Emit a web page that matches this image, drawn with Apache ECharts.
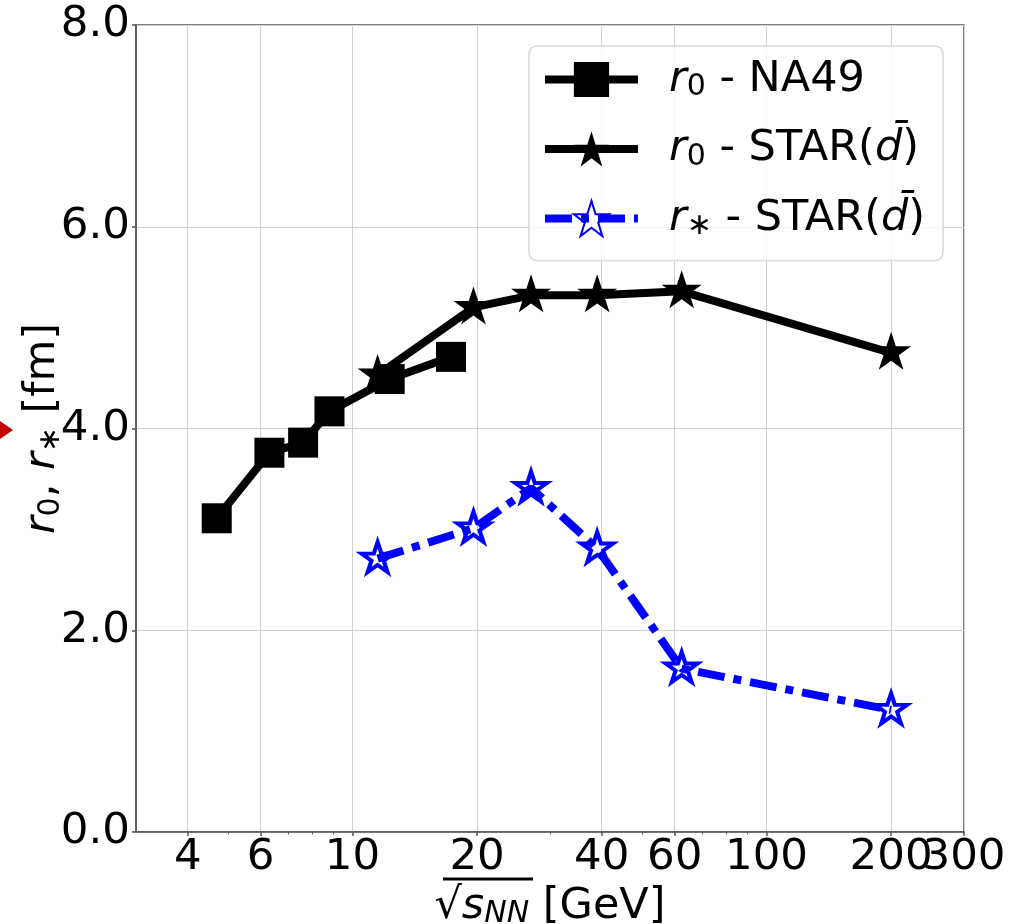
<!DOCTYPE html>
<html><head><meta charset="utf-8">
<script src="https://cdn.jsdelivr.net/npm/echarts@6/dist/echarts.min.js"></script>
<style>html,body{margin:0;padding:0;background:#fff}#c{width:1033px;height:924px}</style>
</head><body><div id="c"></div>
<script>
// ---- data ----
const xTicks = [4, 6, 10, 20, 40, 60, 100, 200, 300];
const xMinorTicks = [5, 7, 8, 9, 30, 50, 70, 80, 90];
const yTicks = [0, 2, 4, 6, 8];
const na49Energy = [4.7, 6.3, 7.6, 8.8, 12.3, 17.3];
const na49R0 = [3.11, 3.76, 3.86, 4.17, 4.49, 4.71];
const starEnergy = [11.5, 19.6, 27, 39, 62.4, 200];
const starR0 = [4.53, 5.20, 5.32, 5.32, 5.36, 4.75];
const starRstar = [2.71, 3.01, 3.41, 2.81, 1.62, 1.21];
const seriesNames = ['r0 - NA49', 'r0 - STAR(dbar)', 'r* - STAR(dbar)'];
const legendRich = ['{i|r}{s|0}{n| - NA49}', '{i|r}{s|0}{n| - STAR(}{i|d\u0304}{n|)}', '{i|r}{s|\u2217}{n| - STAR(}{i|d\u0304}{n|)}'];

const FONT = 'DejaVu Sans';
function starPath() {
  const pts = [];
  for (let k = 0; k < 10; k++) {
    const r = k % 2 === 0 ? 1 : 0.381966;
    const a = -Math.PI / 2 + k * Math.PI / 5;
    pts.push([r * Math.cos(a) * 100, r * Math.sin(a) * 100]);
  }
  return 'path://M' + pts.map(p => p[0].toFixed(2) + ',' + p[1].toFixed(2)).join('L') + 'Z';
}
const STAR = starPath();
const pair = (xs, ys) => xs.map((x, i) => [x, ys[i]]);

const richBase = {
  i: {fontFamily: FONT, fontStyle: 'italic', fontSize: 43, color: '#000'},
  s: {fontFamily: FONT, fontSize: 30, color: '#000', padding: [16, 0, 0, 0]},
  si: {fontFamily: FONT, fontStyle: 'italic', fontSize: 30, color: '#000', padding: [16, 0, 0, 0]},
  n: {fontFamily: FONT, fontSize: 43, color: '#000'}
};
const tickLabelStyle = {fontFamily: FONT, fontSize: 43.5, color: '#000', margin: 4, formatter: v => String(Math.round(v))};

const chart = echarts.init(document.getElementById('c'), null, {renderer: 'canvas'});
chart.setOption({
  animation: false,
  backgroundColor: '#fff',
  grid: {left: 136, right: 69, top: 25, bottom: 92, show: true, borderColor: '#555', borderWidth: 1.5,
    backgroundColor: 'transparent', containLabel: false, outerBoundsMode: 'none'},
  legend: {
    orient: 'vertical', right: 90, top: 46,
    padding: [12, 18, 19, 12], itemWidth: 93, itemHeight: 44, itemGap: 25,
    backgroundColor: 'rgba(255,255,255,0.8)', borderColor: '#d8d8d8', borderWidth: 1.5, borderRadius: 8,
    data: seriesNames,
    lineStyle: {width: 8, cap: 'butt'},
    formatter: name => legendRich[seriesNames.indexOf(name)],
    textStyle: {fontFamily: FONT, fontSize: 43, color: '#000', padding: [0, 0, 0, 26], rich: richBase},
    selectedMode: false
  },
  xAxis: [{
    type: 'log', logBase: 10, min: 3, max: 300, position: 'bottom',
    axisLine: {show: true, lineStyle: {color: '#555', width: 1.5}},
    axisTick: {show: true, length: 4, customValues: xTicks, lineStyle: {color: '#555', width: 1.5}},
    axisLabel: Object.assign({customValues: xTicks.slice(0, -1)}, tickLabelStyle),
    splitLine: {show: true, lineStyle: {color: '#d0d0d0', width: 1}},
    name: '{n|\u221a}{i|s}{si|NN}{n| [GeV]}', nameLocation: 'middle', nameGap: 47,
    nameTextStyle: {rich: richBase}
  }, {
    type: 'log', logBase: 10, min: 3, max: 300, position: 'bottom',
    axisLine: {show: false},
    axisTick: {show: true, length: 2.5, customValues: xMinorTicks, lineStyle: {color: '#555', width: 1}},
    axisLabel: Object.assign({customValues: xTicks.slice(-1)}, tickLabelStyle),
    splitLine: {show: false}
  }],
  yAxis: {
    type: 'value', min: 0, max: 8, interval: 2,
    axisLine: {show: true, lineStyle: {color: '#555', width: 1.5}},
    axisTick: {show: true, length: 4, lineStyle: {color: '#555', width: 1.5}},
    axisLabel: {fontFamily: FONT, fontSize: 43.5, color: '#000', margin: 6, formatter: v => v.toFixed(1)},
    splitLine: {show: true, lineStyle: {color: '#d0d0d0', width: 1}},
    name: '{i|r}{s|0}{n|, }{i|r}{s|\u2217}{n| [fm]}', nameLocation: 'middle', nameGap: 70, nameRotate: 90,
    nameMoveOverlap: false,
    nameTextStyle: {rich: richBase}
  },
  graphic: [
    {type: 'polygon', shape: {points: [[0, 421], [13, 430], [0, 439]]}, style: {fill: '#c00000'}},
    {type: 'line', shape: {x1: 443, y1: 879, x2: 533, y2: 879}, style: {stroke: '#000', lineWidth: 3}}
  ],
  series: [
    {type: 'line', name: seriesNames[0], data: pair(na49Energy, na49R0), symbol: 'rect', symbolSize: 30,
      lineStyle: {color: '#000', width: 8}, itemStyle: {color: '#000'}, silent: true, z: 3},
    {type: 'line', name: seriesNames[1], data: pair(starEnergy, starR0), symbol: STAR, symbolSize: [40, 38], symbolOffset: [0, -2],
      lineStyle: {color: '#000', width: 8}, itemStyle: {color: '#000'}, silent: true, z: 3},
    {type: 'line', name: seriesNames[2], data: pair(starEnergy, starRstar), symbol: STAR, symbolSize: [32, 30], symbolOffset: [0, -1.5],
      lineStyle: {color: '#0000ff', width: 8, type: [27, 9, 8, 9], cap: 'butt'},
      itemStyle: {color: 'rgba(255,255,255,0)', borderColor: '#0000ff', borderWidth: 4}, silent: true, z: 3}
  ]
});
</script></body></html>
